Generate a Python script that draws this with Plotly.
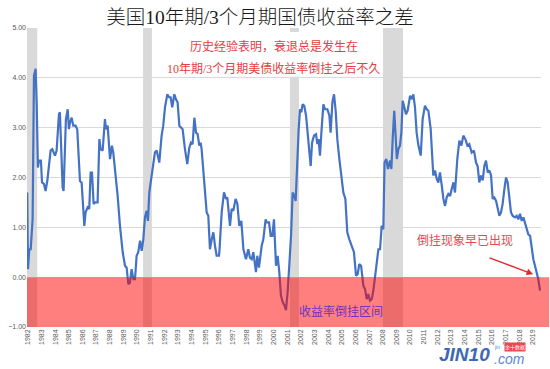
import plotly.graph_objects as go

# ---- data (decimal year, spread in %) ----
x_years = [
    1981.95, 1982.00, 1982.10, 1982.20, 1982.34, 1982.44, 1982.56, 1982.64, 1982.73, 1982.81, 1982.95,
    1983.03, 1983.17, 1983.29, 1983.42, 1983.66, 1983.78, 1983.98,
    1984.10, 1984.27, 1984.34, 1984.44, 1984.54, 1984.61, 1984.69, 1984.78, 1984.91,
    1985.00, 1985.08, 1985.20, 1985.32, 1985.49, 1985.61, 1985.81, 1985.93,
    1986.13, 1986.22, 1986.37, 1986.49, 1986.59, 1986.69, 1986.81, 1986.91,
    1987.10, 1987.23, 1987.32, 1987.47, 1987.64, 1987.71, 1987.84,
    1988.01, 1988.15, 1988.25, 1988.45, 1988.57, 1988.74, 1988.94,
    1989.11, 1989.23, 1989.35, 1989.47, 1989.59, 1989.72, 1989.84, 1989.96,
    1990.08, 1990.21, 1990.33, 1990.45, 1990.57, 1990.69, 1990.79, 1990.89,
    1991.01, 1991.11, 1991.30, 1991.43, 1991.62, 1991.79, 1991.91,
    1992.04, 1992.21, 1992.33, 1992.45, 1992.57, 1992.72, 1992.84, 1992.96,
    1993.09, 1993.23, 1993.33, 1993.50, 1993.67, 1993.82, 1993.94,
    1994.06, 1994.19, 1994.31, 1994.43, 1994.55, 1994.65, 1994.72, 1994.84, 1994.97,
    1995.09, 1995.21, 1995.33, 1995.46, 1995.58, 1995.70, 1995.82, 1995.99,
    1996.02, 1996.19, 1996.36, 1996.51, 1996.60, 1996.80, 1996.92,
    1997.04, 1997.21, 1997.34, 1997.48, 1997.63, 1997.78, 1997.97,
    1998.14, 1998.26, 1998.39, 1998.51, 1998.70, 1998.80, 1998.92,
    1999.12, 1999.24, 1999.41, 1999.48, 1999.66, 1999.78, 1999.90,
    2000.02, 2000.17, 2000.29, 2000.41, 2000.53, 2000.66, 2000.78, 2000.90,
    2001.02, 2001.14, 2001.27, 2001.39, 2001.51, 2001.61, 2001.73, 2001.83, 2001.93,
    2002.02, 2002.12, 2002.24, 2002.37, 2002.46, 2002.61, 2002.71, 2002.81, 2002.95,
    2003.10, 2003.20, 2003.29, 2003.39, 2003.51, 2003.64, 2003.76, 2003.93,
    2004.08, 2004.17, 2004.30, 2004.42, 2004.54, 2004.66, 2004.81, 2004.98,
    2005.10, 2005.25, 2005.39, 2005.54, 2005.71, 2005.88,
    2006.03, 2006.15, 2006.27, 2006.40, 2006.57, 2006.69, 2006.81, 2006.93,
    2007.05, 2007.18, 2007.30, 2007.42, 2007.54, 2007.67, 2007.79, 2007.91,
    2008.03, 2008.12, 2008.25, 2008.37, 2008.52, 2008.62, 2008.72, 2008.83, 2008.93,
    2009.02, 2009.13, 2009.25, 2009.35, 2009.45, 2009.57, 2009.69, 2009.81, 2009.99,
    2010.11, 2010.23, 2010.35, 2010.47, 2010.60, 2010.77, 2010.91,
    2011.08, 2011.21, 2011.33, 2011.50, 2011.60, 2011.69, 2011.82, 2011.94,
    2012.06, 2012.18, 2012.31, 2012.43, 2012.55, 2012.67, 2012.79, 2012.92,
    2013.04, 2013.16, 2013.28, 2013.45, 2013.60, 2013.75, 2013.89,
    2014.04, 2014.19, 2014.33, 2014.50, 2014.67, 2014.82, 2014.94,
    2015.06, 2015.19, 2015.31, 2015.43, 2015.55, 2015.68, 2015.80, 2015.92,
    2016.04, 2016.16, 2016.29, 2016.41, 2016.53, 2016.65, 2016.77, 2016.90,
    2017.02, 2017.14, 2017.26, 2017.38, 2017.51, 2017.68, 2017.80, 2017.92,
    2018.04, 2018.17, 2018.29, 2018.41, 2018.53, 2018.65, 2018.78, 2018.90,
    2019.02, 2019.14, 2019.26, 2019.38, 2019.51,
]
spread = [
    1.70, 0.16, 0.56, 0.56, 1.16, 4.04, 4.18, 3.50, 2.20, 2.34, 2.34,
    1.90, 1.87, 1.73, 1.94, 2.54, 2.57, 2.44,
    2.54, 3.27, 3.31, 2.64, 1.80, 1.73, 2.30, 3.17, 3.37,
    2.97, 3.10, 3.20, 3.04, 3.04, 2.97, 1.93, 1.90,
    1.03, 1.30, 1.40, 1.37, 2.10, 2.10, 1.47, 1.50,
    1.50, 2.77, 2.57, 2.54, 3.17, 2.97, 3.04,
    2.37, 2.64, 2.50, 2.03, 1.63, 1.03, 0.50,
    0.23, 0.19, -0.14, -0.11, 0.16, -0.04, -0.04, 0.43,
    0.50, 0.73, 0.53, 0.76, 1.20, 1.33, 1.13, 1.70,
    1.94, 2.14, 2.50, 2.54, 2.30, 2.84, 3.04,
    3.41, 3.67, 3.61, 3.61, 3.41, 3.67, 3.57, 3.51,
    3.04, 3.01, 2.97, 2.57, 2.27, 2.60, 2.70,
    2.67, 3.20, 2.90, 2.87, 2.64, 2.70, 2.57, 2.10, 1.80,
    1.30, 1.23, 0.56, 0.76, 0.90, 0.63, 0.43, 0.43,
    0.50, 1.30, 1.70, 1.57, 1.60, 1.03, 1.37,
    1.33, 1.57, 1.47, 1.03, 1.13, 0.56, 0.36,
    0.56, 0.39, 0.36, 0.50, 0.10, 0.43, 0.19,
    0.63, 0.76, 1.16, 1.10, 1.10, 0.83, 0.83,
    1.16, 0.23, 0.43, 0.10, -0.37, -0.50, -0.56, -0.66,
    -0.30, 0.23, 0.83, 1.70, 1.63, 1.53, 2.37, 2.97, 3.37,
    3.31, 3.47, 3.44, 3.24, 2.97, 2.50, 2.23, 2.70, 2.84,
    2.87, 2.67, 2.77, 2.44, 2.97, 3.47, 3.37, 3.37,
    3.24, 2.90, 3.51, 3.67, 3.34, 2.77, 2.37, 2.04,
    1.70, 1.57, 0.90, 0.76, 0.63, 0.50,
    0.03, 0.06, 0.26, 0.23, -0.17, -0.24, -0.44, -0.34,
    -0.47, -0.44, -0.27, 0.03, 0.23, 0.56, 0.56, 1.03,
    0.96, 2.30, 2.37, 2.17, 2.34, 2.17, 2.80, 3.34, 2.84,
    2.37, 2.57, 2.64, 2.90, 3.54, 3.41, 3.27, 3.34, 3.64,
    3.57, 3.67, 3.41, 2.90, 2.64, 2.44, 3.17,
    3.44, 3.37, 3.34, 2.97, 2.50, 2.04, 2.14, 1.97,
    1.90, 2.10, 1.84, 1.57, 1.43, 1.60, 1.67, 1.63,
    1.77, 1.90, 1.70, 2.37, 2.74, 2.64, 2.84,
    2.77, 2.64, 2.67, 2.50, 2.54, 2.30, 2.23,
    1.90, 2.04, 1.94, 2.23, 2.34, 2.10, 2.14, 2.04,
    1.57, 1.60, 1.53, 1.40, 1.23, 1.30, 1.47, 1.77,
    2.00, 1.90, 1.57, 1.30, 1.23, 1.20, 1.23, 1.16,
    1.27, 1.13, 1.20, 1.10, 0.96, 0.86, 0.83, 0.56,
    0.36, 0.23, 0.10, -0.04, -0.27,
]

# recession periods (grey bands)
rec_start = [1981.90, 1990.43, 2001.19, 2008.00]
rec_end = [1982.68, 1991.08, 2001.85, 2009.47]

tick_years = list(range(1982, 2020))
tick_labels = [str(y) for y in tick_years]
y_ticks = [-1, 0, 1, 2, 3, 4, 5]

title_text = "美国10年期/3个月期国债收益率之差"
note_line1 = "历史经验表明，衰退总是发生在"
note_line2 = "10年期/3个月期美债收益率倒挂之后不久"
inv_zone_text = "收益率倒挂区间"
inv_now_text = "倒挂现象早已出现"

CJK = "Liberation Serif, Noto Sans CJK SC"

fig = go.Figure()
fig.add_trace(go.Scatter(
    x=x_years, y=spread, mode="lines",
    line=dict(color="#4472c4", width=2.2),
    hoverinfo="skip", showlegend=False,
))

shapes = []
for s, e in zip(rec_start, rec_end):
    shapes.append(dict(type="rect", xref="x", yref="y", x0=s, x1=e, y0=-1, y1=5,
                       fillcolor="#d9d9d9", line=dict(width=0), layer="below"))
# white text box
shapes.append(dict(type="rect", xref="x", yref="y", x0=1991.1, x1=2008.0, y0=4.02, y1=4.92,
                   fillcolor="white", line=dict(width=0), layer="between"))
# inversion zone
shapes.append(dict(type="rect", xref="paper", yref="y", x0=0, x1=1.016, y0=-1, y1=0,
                   fillcolor="rgba(255,0,0,0.5)", line=dict(width=0), layer="above"))

annotations = [
    dict(text=note_line1, x=2000.0, y=4.62, xref="x", yref="y", showarrow=False,
         font=dict(family=CJK, size=12, color="#e63c44"), xanchor="center", yanchor="middle"),
    dict(text=note_line2, x=2000.0, y=4.19, xref="x", yref="y", showarrow=False,
         font=dict(family=CJK, size=12, color="#e63c44"), xanchor="center", yanchor="middle"),
    dict(text=inv_zone_text, x=2004.95, y=-0.68, xref="x", yref="y", showarrow=False,
         font=dict(family=CJK, size=12, color="#7030c0"), xanchor="center", yanchor="middle"),
    dict(text=inv_now_text, x=2014.0, y=0.72, xref="x", yref="y", showarrow=False,
         font=dict(family=CJK, size=12, color="#e8484f"), xanchor="center", yanchor="middle"),
    dict(text="", x=2019.0, y=0.06, ax=2015.7, ay=0.40, xref="x", yref="y",
         axref="x", ayref="y", showarrow=True, arrowhead=2, arrowsize=1,
         arrowwidth=1.3, arrowcolor="#e02828"),
    # watermark
    dict(text="<b><i>JIN10</i></b>", x=(464 - 27) / 514, y=(327 - 354) / 299,
         xref="paper", yref="paper", showarrow=False, xanchor="center", yanchor="middle",
         font=dict(family="Liberation Sans", size=19, color="#3d68b4")),
    dict(text="<i>.com</i>", x=(509 - 27) / 514, y=(327 - 359) / 299,
         xref="paper", yref="paper", showarrow=False, xanchor="center", yanchor="middle",
         font=dict(family="Liberation Sans", size=14, color="#5b87cf")),
    dict(text="jin", x=(497 - 27) / 514, y=(327 - 347) / 299,
         xref="paper", yref="paper", showarrow=False, xanchor="center", yanchor="middle",
         font=dict(family="Liberation Sans", size=5, color="#5b87cf")),
    dict(text="金十数据", x=(515 - 27) / 514, y=(327 - 346.5) / 299,
         xref="paper", yref="paper", showarrow=False, xanchor="center", yanchor="middle",
         bgcolor="#e8474f", borderpad=0,
         font=dict(family="Noto Sans CJK SC", size=5, color="white")),
]

fig.update_layout(
    width=550, height=369,
    margin=dict(l=27, r=9, t=28, b=42, autoexpand=False),
    paper_bgcolor="white", plot_bgcolor="white",
    title=dict(text=title_text, x=260 / 550, xref="container", xanchor="center",
               y=1 - 17 / 369, yref="container", yanchor="middle",
               font=dict(family=CJK, size=19.5, color="#1a1a1a", weight=300)),
    shapes=shapes, annotations=annotations,
    xaxis=dict(range=[1981.93, 2019.58], tickmode="array", tickvals=tick_years,
               ticktext=tick_labels, tickangle=-90, showgrid=False, zeroline=False,
               automargin=False,
               showline=False, ticks="", tickfont=dict(family="Liberation Sans", size=7, color="#595959")),
    yaxis=dict(range=[-1, 5], tickmode="array", tickvals=y_ticks, tickformat=".2f",
               showgrid=True, gridcolor="#d9d9d9", gridwidth=1, zeroline=False,
               automargin=False,
               showline=False, ticks="", tickfont=dict(family="Liberation Sans", size=7, color="#595959")),
    showlegend=False,
)

fig.write_html("out.html", config={"displayModeBar": False},
               post_script="document.body.style.margin='0';document.body.style.overflow='hidden';")
